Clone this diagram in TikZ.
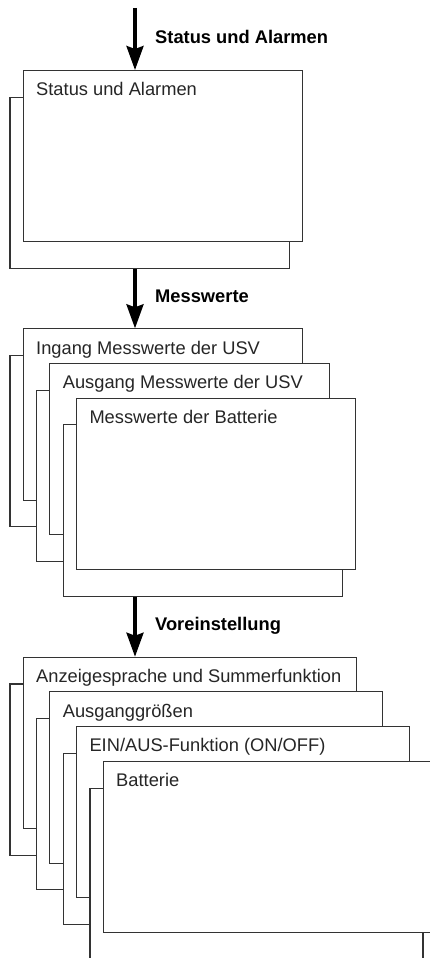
\documentclass[tikz,border=0pt]{standalone}
\usepackage{fontspec}
\setmainfont{Liberation Sans}
\usetikzlibrary{arrows.meta,calc}
\definecolor{boxline}{HTML}{333333}
\newcommand{\ubox}[5]{%
  \node[backbox, minimum width=#4pt, anchor=north west] (#1b) at ({#2-13.3},{-#3-26.7}) {};
  \node[frontbox, minimum width=#4pt, anchor=north west] (#1) at ({#2},{-#3}) {};
  \node[boxtext, anchor=base west] (#1t) at ($(#1.north west)+(13.3,-25.7)$) {#5};
}
\begin{document}
\begin{tikzpicture}[x=1pt,y=1pt,
  frontbox/.style={draw=boxline, fill=white, line width=1.1pt, inner sep=0pt, minimum height=171.3pt},
  backbox/.style={frontbox},
  boxtext/.style={inner sep=0pt, text=black!85, font=\fontsize{18.3}{22}\selectfont},
  lab/.style={inner sep=0pt, font=\fontsize{18.3}{22}\selectfont\bfseries},
  flow/.style={line width=3.3pt, -{Stealth[length=24pt,width=17pt,inset=3pt]}}]
\clip (0,0) rectangle (430,-958);
\fill[white] (0,0) rectangle (430,-958);
% section 1
\ubox{s}{22.7}{70}{279.3}{Status und Alarmen}
% section 2
\ubox{a}{22.7}{328.3}{279.3}{Ingang Messwerte der USV}
\ubox{bb}{49.3}{362.9}{279.3}{Ausgang Messwerte der USV}
\ubox{c}{76}{397.6}{279.3}{Messwerte der Batterie}
% section 3
\ubox{d}{22.7}{656.7}{333}{Anzeigesprache und Summerfunktion}
\ubox{e}{49.3}{691.3}{333}{Ausganggrößen}
\ubox{f}{76}{726}{333}{EIN/AUS-Funktion (ON/OFF)}
\ubox{g}{102.7}{760.8}{333}{Batterie}
% arrows
\coordinate (start) at (135,-8);
\draw[flow] (start) -- (s.north -| start);
\draw[flow] (sb.south -| start) -- (a.north -| start);
\draw[flow] (cb.south -| start) -- (d.north -| start);
% labels
\node[lab, anchor=base west] (l1) at (155,-44) {Status und Alarmen};
\node[lab, anchor=base west] (l2) at (155,-302.7) {Messwerte};
\node[lab, anchor=base west] (l3) at (155,-630.7) {Voreinstellung};
\end{tikzpicture}
\end{document}
